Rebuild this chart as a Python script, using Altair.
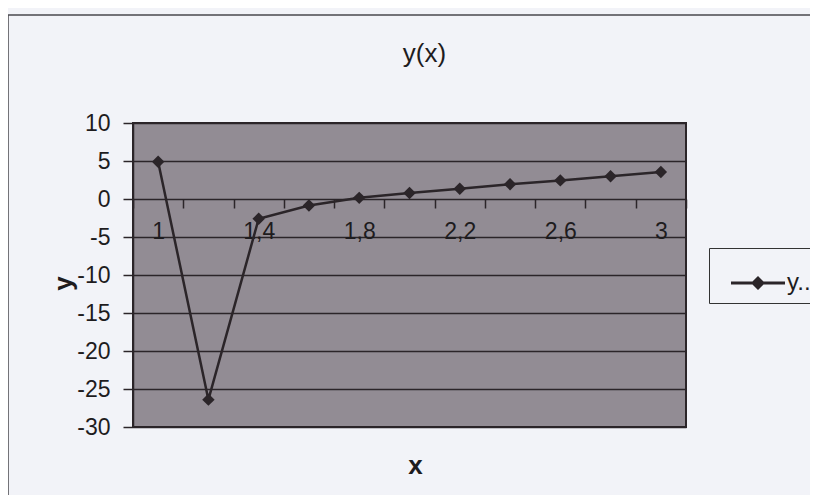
import altair as alt
import pandas as pd

# ---- data ----
x_labels = ["1", "1,2", "1,4", "1,6", "1,8", "2", "2,2", "2,4", "2,6", "2,8", "3"]
y_values = [4.9, -26.4, -2.6, -0.85, 0.15, 0.8, 1.35, 1.95, 2.45, 3.0, 3.55]
shown_x_labels = ["1", "1,4", "1,8", "2,2", "2,6", "3"]
y_ticks = [-30, -25, -20, -15, -10, -5, 0, 5, 10]
series_name = "y.."
chart_title = "y(x)"
x_title = "x"
y_title = "y"

df = pd.DataFrame({"x": x_labels, "y": y_values, "series": [series_name] * len(x_labels)})

FONT = "Liberation Sans"
DARK = "#2b2529"
TEXT = "#1e1c1e"
PAGE = "#f2f3f8"
PLOT = "#928c94"

label_expr = ("indexof([" + ",".join(f"'{s}'" for s in shown_x_labels)
              + "], datum.value) >= 0 ? datum.value : ''")

x_enc = alt.X(
    "x:N", sort=x_labels, bandPosition=0.5,
    scale=alt.Scale(type="band", paddingInner=0, paddingOuter=0),
    axis=alt.Axis(
        title=x_title, offset=-228, domain=False, grid=False, tickBand="extent",
        ticks=True, tickSize=9, tickColor=DARK, tickWidth=1.5,
        labelExpr=label_expr, labelAngle=0, labelOverlap=False,
        labelFontSize=23, labelFont=FONT, labelColor=TEXT, labelPadding=12,
        titleX=282, titleY=266, titleFontSize=26, titleFont=FONT,
        titleFontWeight="bold", titleBaseline="middle", titleAlign="center",
        titleColor=TEXT,
    ),
)

y_enc = alt.Y(
    "y:Q",
    scale=alt.Scale(domain=[-30, 10], nice=False, zero=False),
    axis=alt.Axis(
        title=y_title, values=y_ticks, grid=True, gridColor=DARK, gridWidth=1.5,
        domain=True, domainColor=DARK, domainWidth=1.5,
        ticks=True, tickSize=10, tickColor=DARK, tickWidth=1.5,
        labelExpr="'' + datum.value", labelFontSize=23, labelFont=FONT,
        labelColor=TEXT, labelPadding=13,
        titleX=-70, titleY=160, titleFontSize=26, titleFont=FONT,
        titleFontWeight="bold", titleBaseline="middle", titleAlign="center",
        titleColor=TEXT,
    ),
)

legend_symbol = ("M-1,-0.055L1,-0.055L1,0.055L-1,0.055Z"
                 "M0,-0.26L0.26,0L0,0.26L-0.26,0Z")

frame = alt.Chart(pd.DataFrame({"k": [0]})).mark_rect(
    filled=False, stroke="#4a4a4e", strokeWidth=1.5
).encode(x=alt.value(-125), x2=alt.value(720), y=alt.value(-108), y2=alt.value(420))

line = alt.Chart(df).mark_line(color=DARK, strokeWidth=2.5).encode(x=x_enc, y=y_enc)

pts = alt.Chart(df).mark_point(shape="diamond", filled=True, size=155, opacity=1).encode(
    x=x_enc, y=y_enc,
    color=alt.Color(
        "series:N", scale=alt.Scale(range=[DARK]),
        legend=alt.Legend(
            title=None, orient="none", legendX=576, legendY=125,
            symbolType=legend_symbol, symbolSize=2916, symbolOffset=14,
            symbolFillColor=DARK, symbolStrokeWidth=0,
            labelFontSize=24, labelFont=FONT, labelColor=TEXT, labelOffset=2,
            padding=8, strokeColor="#333", fillColor=PAGE,
        ),
    ),
)

chart = alt.layer(frame, line, pts).properties(
    width=553, height=304,
    title=alt.TitleParams(chart_title, fontSize=26, font=FONT, fontWeight="normal",
                          color=TEXT, anchor="middle", frame="group", dx=15, offset=-53),
    autosize=alt.AutoSizeParams(type="none"),
    padding={"left": 125, "top": 115, "right": 124, "bottom": 68},
).configure(background=PAGE, font=FONT).configure_view(fill=PLOT, stroke=DARK, strokeWidth=2)

chart.save("out.html", embed_options={"renderer": "svg", "actions": False})
